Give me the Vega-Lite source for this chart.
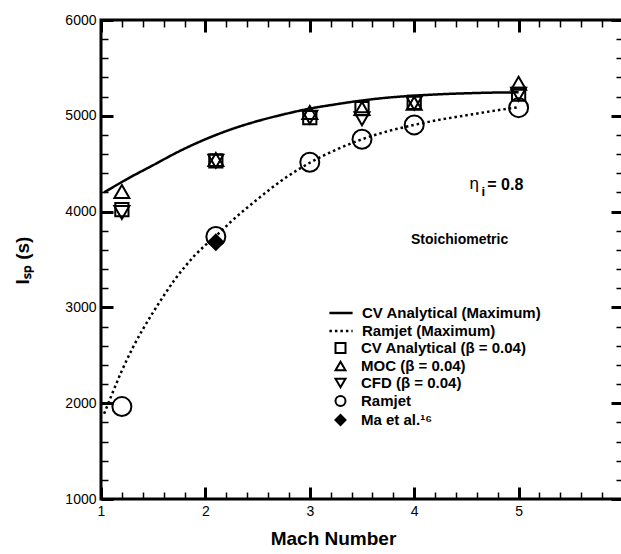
{
  "$schema": "https://vega.github.io/schema/vega-lite/v6.json",
  "width": 522,
  "height": 479,
  "autosize": {"type": "none"},
  "padding": {"left": 101, "top": 20, "right": 0, "bottom": 55},
  "background": "white",
  "config": {
    "font": "Liberation Sans",
    "view": {"stroke": "black", "strokeWidth": 3},
    "axis": {"grid": false, "domain": false, "labelFont": "Liberation Sans", "titleFont": "Liberation Sans", "labelColor": "black", "titleColor": "black", "tickColor": "black"},
    "legend": {"labelFont": "Liberation Sans", "labelColor": "black", "labelFontWeight": "bold", "labelFontSize": 15, "labelLimit": 400, "padding": 0, "title": null}
  },
  "datasets": {
    "curves": [
      {"series": "CV Analytical (Maximum)", "M": 1.03, "I": 4200},
      {"series": "CV Analytical (Maximum)", "M": 1.25, "I": 4340},
      {"series": "CV Analytical (Maximum)", "M": 1.5, "I": 4485},
      {"series": "CV Analytical (Maximum)", "M": 1.75, "I": 4630},
      {"series": "CV Analytical (Maximum)", "M": 2.0, "I": 4755},
      {"series": "CV Analytical (Maximum)", "M": 2.25, "I": 4860},
      {"series": "CV Analytical (Maximum)", "M": 2.5, "I": 4945},
      {"series": "CV Analytical (Maximum)", "M": 2.75, "I": 5015},
      {"series": "CV Analytical (Maximum)", "M": 3.0, "I": 5075},
      {"series": "CV Analytical (Maximum)", "M": 3.25, "I": 5120},
      {"series": "CV Analytical (Maximum)", "M": 3.5, "I": 5160},
      {"series": "CV Analytical (Maximum)", "M": 3.75, "I": 5190},
      {"series": "CV Analytical (Maximum)", "M": 4.0, "I": 5210},
      {"series": "CV Analytical (Maximum)", "M": 4.25, "I": 5225},
      {"series": "CV Analytical (Maximum)", "M": 4.5, "I": 5235},
      {"series": "CV Analytical (Maximum)", "M": 4.75, "I": 5242},
      {"series": "CV Analytical (Maximum)", "M": 5.0, "I": 5245},
      {"series": "Ramjet (Maximum)", "M": 1.03, "I": 1890},
      {"series": "Ramjet (Maximum)", "M": 1.1, "I": 2080},
      {"series": "Ramjet (Maximum)", "M": 1.2, "I": 2340},
      {"series": "Ramjet (Maximum)", "M": 1.3, "I": 2570},
      {"series": "Ramjet (Maximum)", "M": 1.4, "I": 2770},
      {"series": "Ramjet (Maximum)", "M": 1.5, "I": 2950},
      {"series": "Ramjet (Maximum)", "M": 1.6, "I": 3120},
      {"series": "Ramjet (Maximum)", "M": 1.7, "I": 3280},
      {"series": "Ramjet (Maximum)", "M": 1.8, "I": 3420},
      {"series": "Ramjet (Maximum)", "M": 1.9, "I": 3545},
      {"series": "Ramjet (Maximum)", "M": 2.0, "I": 3650},
      {"series": "Ramjet (Maximum)", "M": 2.1, "I": 3745},
      {"series": "Ramjet (Maximum)", "M": 2.25, "I": 3900},
      {"series": "Ramjet (Maximum)", "M": 2.5, "I": 4130},
      {"series": "Ramjet (Maximum)", "M": 2.75, "I": 4340},
      {"series": "Ramjet (Maximum)", "M": 3.0, "I": 4510},
      {"series": "Ramjet (Maximum)", "M": 3.25, "I": 4645},
      {"series": "Ramjet (Maximum)", "M": 3.5, "I": 4755},
      {"series": "Ramjet (Maximum)", "M": 3.75, "I": 4840},
      {"series": "Ramjet (Maximum)", "M": 4.0, "I": 4905},
      {"series": "Ramjet (Maximum)", "M": 4.25, "I": 4960},
      {"series": "Ramjet (Maximum)", "M": 4.5, "I": 5005},
      {"series": "Ramjet (Maximum)", "M": 4.75, "I": 5050},
      {"series": "Ramjet (Maximum)", "M": 5.0, "I": 5090}
    ],
    "points": [
      {"series": "CV Analytical (β = 0.04)", "M": 1.2, "I": 4020},
      {"series": "CV Analytical (β = 0.04)", "M": 2.1, "I": 4530},
      {"series": "CV Analytical (β = 0.04)", "M": 3.0, "I": 4980},
      {"series": "CV Analytical (β = 0.04)", "M": 3.5, "I": 5075},
      {"series": "CV Analytical (β = 0.04)", "M": 4.0, "I": 5140},
      {"series": "CV Analytical (β = 0.04)", "M": 5.0, "I": 5225},
      {"series": "MOC (β = 0.04)", "M": 1.2, "I": 4210},
      {"series": "MOC (β = 0.04)", "M": 2.1, "I": 4545},
      {"series": "MOC (β = 0.04)", "M": 3.0, "I": 5035},
      {"series": "MOC (β = 0.04)", "M": 3.5, "I": 5075},
      {"series": "MOC (β = 0.04)", "M": 4.0, "I": 5130},
      {"series": "MOC (β = 0.04)", "M": 5.0, "I": 5340},
      {"series": "CFD (β = 0.04)", "M": 1.2, "I": 3990},
      {"series": "CFD (β = 0.04)", "M": 2.1, "I": 4525},
      {"series": "CFD (β = 0.04)", "M": 3.0, "I": 4985},
      {"series": "CFD (β = 0.04)", "M": 3.5, "I": 4970},
      {"series": "CFD (β = 0.04)", "M": 4.0, "I": 5130},
      {"series": "CFD (β = 0.04)", "M": 5.0, "I": 5225},
      {"series": "Ramjet", "M": 1.2, "I": 1965},
      {"series": "Ramjet", "M": 2.1, "I": 3740},
      {"series": "Ramjet", "M": 3.0, "I": 4515},
      {"series": "Ramjet", "M": 3.5, "I": 4755},
      {"series": "Ramjet", "M": 4.0, "I": 4905},
      {"series": "Ramjet", "M": 5.0, "I": 5085},
      {"series": "Ma et al.¹⁶", "M": 2.1, "I": 3680}
    ],
    "eta": [{"M": 4.53, "I": 4290, "t": "η"}],
    "etaSub": [{"M": 4.645, "I": 4200, "t": "i"}],
    "etaVal": [{"M": 4.7, "I": 4280, "t": "= 0.8"}],
    "stoich": [{"M": 4.435, "I": 3700, "t": "Stoichiometric"}]
  },
  "layer": [
    {
      "data": {"name": "curves"},
      "mark": {"type": "line", "interpolate": "monotone", "strokeWidth": 2.5, "color": "black"},
      "encoding": {
        "x": {"field": "M", "type": "quantitative", "scale": {"domain": [1, 6], "nice": false, "zero": false},
          "axis": {"orient": "bottom", "values": [1, 2, 3, 4, 5], "ticks": false, "labelFontSize": 14, "labelPadding": 5, "labelFlush": false, "labelOverlap": false, "format": "d",
            "title": "Mach Number", "titleFontSize": 19, "titleFontWeight": "bold", "titleX": 232, "titleY": 45, "titleBaseline": "alphabetic", "titleAlign": "center"}},
        "y": {"field": "I", "type": "quantitative", "scale": {"domain": [1000, 6000], "nice": false, "zero": false},
          "axis": {"orient": "left", "values": [1000, 2000, 3000, 4000, 5000, 6000], "ticks": false, "labelFontSize": 14, "labelPadding": 5, "labelFlush": false, "labelOverlap": false, "format": "d",
            "title": "Iₛₚ (s)", "titleFontSize": 19, "titleFontWeight": "bold", "titleX": -79, "titleY": 240, "titleAngle": -90, "titleAlign": "center", "titleBaseline": "middle"}},
        "strokeDash": {"field": "series", "type": "nominal",
          "scale": {"domain": ["CV Analytical (Maximum)", "Ramjet (Maximum)"], "range": [[1, 0], [2.5, 3]]},
          "legend": {"orient": "none", "legendX": 232.5, "legendY": 285.5, "symbolType": "M-2.9,0H2.9", "symbolSize": 64, "symbolStrokeWidth": 2.5, "symbolStrokeColor": "black", "labelOffset": 13.5, "rowPadding": 2}}
      }
    },
    {
      "data": {"name": "points"},
      "transform": [{"filter": {"field": "series", "oneOf": ["CV Analytical (β = 0.04)"]}}],
      "mark": {"type": "point", "strokeWidth": 2, "opacity": 1, "size": 175},
      "encoding": {
        "x": {"field": "M", "type": "quantitative", "scale": {"domain": [1, 6], "nice": false, "zero": false},
          "axis": {"orient": "bottom", "values": [1, 2, 3, 4, 5, 6], "labels": false, "tickSize": -12, "tickWidth": 3, "title": null}},
        "y": {"field": "I", "type": "quantitative", "scale": {"domain": [1000, 6000], "nice": false, "zero": false},
          "axis": {"orient": "left", "values": [1000, 2000, 3000, 4000, 5000, 6000], "labels": false, "tickSize": -12, "tickWidth": 3, "title": null}},
        "shape": {"field": "series", "type": "nominal",
          "scale": {"domain": ["CV Analytical (β = 0.04)", "MOC (β = 0.04)", "CFD (β = 0.04)", "Ramjet", "Ma et al.¹⁶"], "range": ["square", "triangle-up", "triangle-down", "circle", "diamond"]},
          "legend": {"orient": "none", "legendX": 232, "legendY": 320.5, "symbolStrokeWidth": 2, "symbolStrokeColor": "black", "labelOffset": 13, "rowPadding": 0}},
        "fill": {"field": "series", "type": "nominal",
          "scale": {"domain": ["CV Analytical (β = 0.04)", "MOC (β = 0.04)", "CFD (β = 0.04)", "Ramjet", "Ma et al.¹⁶"], "range": ["transparent", "transparent", "transparent", "transparent", "black"]},
          "legend": {"orient": "none", "legendX": 232, "legendY": 320.5, "symbolStrokeWidth": 2, "symbolStrokeColor": "black", "labelOffset": 13, "rowPadding": 0}},
        "stroke": {"field": "series", "type": "nominal",
          "scale": {"domain": ["CV Analytical (β = 0.04)", "MOC (β = 0.04)", "CFD (β = 0.04)", "Ramjet", "Ma et al.¹⁶"], "range": ["black", "black", "black", "black", "black"]},
          "legend": {"orient": "none", "legendX": 232, "legendY": 320.5, "symbolStrokeWidth": 2, "symbolStrokeColor": "black", "labelOffset": 13, "rowPadding": 0}}
      }
    },
    {
      "data": {"name": "points"},
      "transform": [{"filter": {"field": "series", "oneOf": ["Ramjet"]}}],
      "mark": {"type": "point", "strokeWidth": 2, "opacity": 1, "size": 361},
      "encoding": {
        "x": {"field": "M", "type": "quantitative", "scale": {"domain": [1, 6], "nice": false, "zero": false},
          "axis": {"orient": "bottom", "values": [1.2, 1.4, 1.6, 1.8, 2.2, 2.4, 2.6, 2.8, 3.2, 3.4, 3.6, 3.8, 4.2, 4.4, 4.6, 4.8, 5.2, 5.4, 5.6, 5.8], "labels": false, "tickSize": -7, "tickWidth": 1.5, "title": null}},
        "y": {"field": "I", "type": "quantitative", "scale": {"domain": [1000, 6000], "nice": false, "zero": false},
          "axis": {"orient": "left", "values": [1200, 1400, 1600, 1800, 2200, 2400, 2600, 2800, 3200, 3400, 3600, 3800, 4200, 4400, 4600, 4800, 5200, 5400, 5600, 5800], "labels": false, "tickSize": -7, "tickWidth": 1.5, "title": null}},
        "shape": {"field": "series", "type": "nominal",
          "scale": {"domain": ["CV Analytical (β = 0.04)", "MOC (β = 0.04)", "CFD (β = 0.04)", "Ramjet", "Ma et al.¹⁶"], "range": ["square", "triangle-up", "triangle-down", "circle", "diamond"]},
          "legend": {"orient": "none", "legendX": 232, "legendY": 320.5, "symbolStrokeWidth": 2, "symbolStrokeColor": "black", "labelOffset": 13, "rowPadding": 0}},
        "fill": {"field": "series", "type": "nominal",
          "scale": {"domain": ["CV Analytical (β = 0.04)", "MOC (β = 0.04)", "CFD (β = 0.04)", "Ramjet", "Ma et al.¹⁶"], "range": ["transparent", "transparent", "transparent", "transparent", "black"]},
          "legend": {"orient": "none", "legendX": 232, "legendY": 320.5, "symbolStrokeWidth": 2, "symbolStrokeColor": "black", "labelOffset": 13, "rowPadding": 0}},
        "stroke": {"field": "series", "type": "nominal",
          "scale": {"domain": ["CV Analytical (β = 0.04)", "MOC (β = 0.04)", "CFD (β = 0.04)", "Ramjet", "Ma et al.¹⁶"], "range": ["black", "black", "black", "black", "black"]},
          "legend": {"orient": "none", "legendX": 232, "legendY": 320.5, "symbolStrokeWidth": 2, "symbolStrokeColor": "black", "labelOffset": 13, "rowPadding": 0}}
      }
    },
    {
      "data": {"name": "points"},
      "transform": [{"filter": {"field": "series", "oneOf": ["MOC (β = 0.04)", "CFD (β = 0.04)", "Ma et al.¹⁶"]}}],
      "mark": {"type": "point", "strokeWidth": 2, "opacity": 1, "size": 225},
      "encoding": {
        "x": {"field": "M", "type": "quantitative", "scale": {"domain": [1, 6], "nice": false, "zero": false},
          "axis": {"orient": "top", "values": [1, 2, 3, 4, 5, 6], "labels": false, "tickSize": -12, "tickWidth": 3, "title": null}},
        "y": {"field": "I", "type": "quantitative", "scale": {"domain": [1000, 6000], "nice": false, "zero": false},
          "axis": {"orient": "right", "values": [1000, 2000, 3000, 4000, 5000, 6000], "labels": false, "tickSize": -12, "tickWidth": 3, "title": null}},
        "shape": {"field": "series", "type": "nominal",
          "scale": {"domain": ["CV Analytical (β = 0.04)", "MOC (β = 0.04)", "CFD (β = 0.04)", "Ramjet", "Ma et al.¹⁶"], "range": ["square", "triangle-up", "triangle-down", "circle", "diamond"]},
          "legend": {"orient": "none", "legendX": 232, "legendY": 320.5, "symbolStrokeWidth": 2, "symbolStrokeColor": "black", "labelOffset": 13, "rowPadding": 0}},
        "fill": {"field": "series", "type": "nominal",
          "scale": {"domain": ["CV Analytical (β = 0.04)", "MOC (β = 0.04)", "CFD (β = 0.04)", "Ramjet", "Ma et al.¹⁶"], "range": ["transparent", "transparent", "transparent", "transparent", "black"]},
          "legend": {"orient": "none", "legendX": 232, "legendY": 320.5, "symbolStrokeWidth": 2, "symbolStrokeColor": "black", "labelOffset": 13, "rowPadding": 0}},
        "stroke": {"field": "series", "type": "nominal",
          "scale": {"domain": ["CV Analytical (β = 0.04)", "MOC (β = 0.04)", "CFD (β = 0.04)", "Ramjet", "Ma et al.¹⁶"], "range": ["black", "black", "black", "black", "black"]},
          "legend": {"orient": "none", "legendX": 232, "legendY": 320.5, "symbolStrokeWidth": 2, "symbolStrokeColor": "black", "labelOffset": 13, "rowPadding": 0}}
      }
    },
    {
      "data": {"name": "eta"},
      "mark": {"type": "text", "align": "left", "baseline": "middle", "font": "Liberation Sans", "fontSize": 17, "color": "black"},
      "encoding": {
        "x": {"field": "M", "type": "quantitative", "scale": {"domain": [1, 6], "nice": false, "zero": false},
          "axis": {"orient": "top", "values": [1.2, 1.4, 1.6, 1.8, 2.2, 2.4, 2.6, 2.8, 3.2, 3.4, 3.6, 3.8, 4.2, 4.4, 4.6, 4.8, 5.2, 5.4, 5.6, 5.8], "labels": false, "tickSize": -7, "tickWidth": 1.5, "title": null}},
        "y": {"field": "I", "type": "quantitative", "scale": {"domain": [1000, 6000], "nice": false, "zero": false},
          "axis": {"orient": "right", "values": [1200, 1400, 1600, 1800, 2200, 2400, 2600, 2800, 3200, 3400, 3600, 3800, 4200, 4400, 4600, 4800, 5200, 5400, 5600, 5800], "labels": false, "tickSize": -7, "tickWidth": 1.5, "title": null}},
        "text": {"field": "t"}
      }
    },
    {
      "data": {"name": "etaSub"},
      "mark": {"type": "text", "align": "left", "baseline": "middle", "font": "Liberation Sans", "fontSize": 13, "fontWeight": "bold", "color": "black"},
      "encoding": {
        "x": {"field": "M", "type": "quantitative", "scale": {"domain": [1, 6], "nice": false, "zero": false}, "axis": null},
        "y": {"field": "I", "type": "quantitative", "scale": {"domain": [1000, 6000], "nice": false, "zero": false}, "axis": null},
        "text": {"field": "t"}
      }
    },
    {
      "data": {"name": "etaVal"},
      "mark": {"type": "text", "align": "left", "baseline": "middle", "font": "Liberation Sans", "fontSize": 16, "fontWeight": "bold", "color": "black"},
      "encoding": {
        "x": {"field": "M", "type": "quantitative", "scale": {"domain": [1, 6], "nice": false, "zero": false}, "axis": null},
        "y": {"field": "I", "type": "quantitative", "scale": {"domain": [1000, 6000], "nice": false, "zero": false}, "axis": null},
        "text": {"field": "t"}
      }
    },
    {
      "data": {"name": "stoich"},
      "mark": {"type": "text", "align": "center", "baseline": "middle", "font": "Liberation Sans", "fontSize": 14, "fontWeight": "bold", "color": "black"},
      "encoding": {
        "x": {"field": "M", "type": "quantitative", "scale": {"domain": [1, 6], "nice": false, "zero": false}, "axis": null},
        "y": {"field": "I", "type": "quantitative", "scale": {"domain": [1000, 6000], "nice": false, "zero": false}, "axis": null},
        "text": {"field": "t"}
      }
    }
  ],
  "resolve": {"axis": {"x": "independent", "y": "independent"}}
}
